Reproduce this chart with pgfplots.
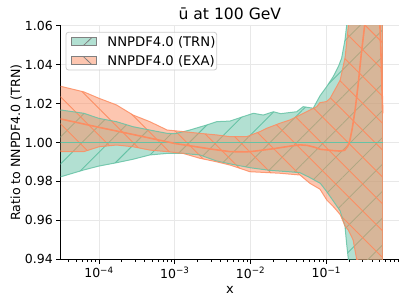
\documentclass[border=0pt]{standalone}
\usepackage{fontspec}
\setmainfont{DejaVu Sans}
\usepackage{pgfplots}
\usepackage{pgfplotstable}
\pgfplotsset{compat=1.18}
\usepgfplotslibrary{fillbetween}
\usetikzlibrary{patterns.meta}
\definecolor{trn}{HTML}{66C2A5}
\definecolor{exa}{HTML}{FC8D62}

\pgfplotstableread{
x y
3.02e-5 1.0168
6.31e-5 1.0150
1.00e-4 1.0124
1.70e-4 1.0107
2.82e-4 1.0081
4.68e-4 1.0064
7.94e-4 1.0047
1.00e-3 1.0045
1.58e-3 1.0064
2.64e-3 1.0090
3.57e-3 1.0107
5.34e-3 1.0110
8.00e-3 1.0133
1.09e-2 1.0150
1.47e-2 1.0141
2.00e-2 1.0158
2.50e-2 1.0148
2.99e-2 1.0152
4.06e-2 1.0158
4.95e-2 1.0184
6.71e-2 1.0176
8.24e-2 1.0240
1.01e-1 1.0287
1.23e-1 1.0338
1.44e-1 1.0390
1.59e-1 1.0433
1.76e-1 1.0527
1.85e-1 1.0600
2.00e-1 1.0800
3.16e-1 1.2000
5.53e-1 1.3000
}\trnhi

\pgfplotstableread{
x y
3.02e-5 0.9822
6.31e-5 0.9859
1.00e-4 0.9879
1.70e-4 0.9896
2.82e-4 0.9914
4.68e-4 0.9936
7.94e-4 0.9944
1.29e-3 0.9944
2.14e-3 0.9936
3.55e-3 0.9905
5.37e-3 0.9890
1.00e-2 0.9870
1.78e-2 0.9857
3.16e-2 0.9850
4.47e-2 0.9845
6.03e-2 0.9820
8.32e-2 0.9790
1.00e-1 0.9750
1.23e-1 0.9700
1.51e-1 0.9650
1.76e-1 0.9570
1.85e-1 0.9480
1.95e-1 0.9400
2.09e-1 0.9200
3.16e-1 0.8500
5.53e-1 0.8000
}\trnlo

\pgfplotstableread{
x y
3.02e-5 1.0290
6.31e-5 1.0260
1.00e-4 1.0227
1.70e-4 1.0193
2.82e-4 1.0141
4.68e-4 1.0107
7.94e-4 1.0064
1.29e-3 1.0056
2.14e-3 1.0047
3.55e-3 1.0039
5.37e-3 1.0030
8.90e-3 1.0030
1.33e-2 1.0056
1.63e-2 1.0073
2.44e-2 1.0099
3.31e-2 1.0116
4.49e-2 1.0141
6.08e-2 1.0167
7.45e-2 1.0184
8.24e-2 1.0205
1.00e-1 1.0210
1.12e-1 1.0227
1.52e-1 1.0320
1.77e-1 1.0440
1.95e-1 1.0600
2.24e-1 1.0900
3.16e-1 1.1500
5.53e-1 1.2000
}\exahi

\pgfplotstableread{
x y
3.02e-5 0.9953
6.31e-5 0.9953
1.00e-4 0.9978
1.70e-4 0.9987
2.82e-4 0.9978
4.68e-4 0.9961
7.94e-4 0.9953
1.29e-3 0.9944
2.14e-3 0.9919
3.55e-3 0.9901
5.37e-3 0.9884
9.80e-3 0.9850
2.44e-2 0.9842
4.49e-2 0.9833
6.08e-2 0.9790
8.24e-2 0.9760
1.01e-1 0.9705
1.24e-1 0.9670
1.52e-1 0.9630
1.77e-1 0.9570
1.95e-1 0.9550
2.25e-1 0.9500
2.49e-1 0.9407
2.63e-1 0.9300
3.98e-1 0.9000
5.53e-1 0.8800
}\exalo

\pgfplotstableread{
x y
3.02e-5 1.0122
1.00e-4 1.0078
3.16e-4 1.0037
1.00e-3 0.9995
3.16e-3 0.9965
5.37e-3 0.9953
8.90e-3 0.9952
1.10e-2 0.9955
2.00e-2 0.9968
3.16e-2 0.9980
4.47e-2 0.9988
5.60e-2 0.9985
7.08e-2 0.9975
8.30e-2 0.9965
1.00e-1 0.9962
1.26e-1 0.9958
1.51e-1 0.9956
1.74e-1 0.9960
1.91e-1 0.9980
2.04e-1 1.0010
2.19e-1 1.0070
2.40e-1 1.0170
2.63e-1 1.0300
2.88e-1 1.0450
3.24e-1 1.0620
3.80e-1 1.1000
4.47e-1 1.1000
5.09e-1 1.0600
5.31e-1 1.0400
5.53e-1 1.0150
}\exac

\begin{document}
\begin{tikzpicture}
\begin{axis}[
  at={(0pt,0pt)}, anchor=south west,
  scale only axis, width=338.3pt, height=233.6pt,
  xmode=log, xmin=3.126e-5, xmax=0.908, ymin=0.94, ymax=1.06,
  axis x line*=bottom, axis y line*=left,
  axis line style={black, line width=0.9pt},
  xtick={1e-4,1e-3,1e-2,1e-1},
  xticklabels={10\textsuperscript{−4},10\textsuperscript{−3},10\textsuperscript{−2},10\textsuperscript{−1}},
  minor xtick={4e-5,5e-5,6e-5,7e-5,8e-5,9e-5,2e-4,3e-4,4e-4,5e-4,6e-4,7e-4,8e-4,9e-4,2e-3,3e-3,4e-3,5e-3,6e-3,7e-3,8e-3,9e-3,2e-2,3e-2,4e-2,5e-2,6e-2,7e-2,8e-2,9e-2,0.2,0.3,0.4,0.5,0.6,0.7,0.8,0.9},
  ytick={0.94,0.96,0.98,1.00,1.02,1.04,1.06},
  yticklabels={0.94,0.96,0.98,1.00,1.02,1.04,1.06},
  tick align=outside,
  major tick length=4.4pt, minor tick length=2.6pt,
  every tick/.style={black, line width=0.9pt},
  minor tick style={black, line width=0.7pt},
  grid=major, major grid style={black!9, line width=0.9pt},
  tick label style={font=\fontsize{12.5}{15}\selectfont},
  every axis title/.style={at={(axis description cs:0.5,1)}, anchor=base, yshift=6.4pt, font=\fontsize{15.6}{18}\selectfont},
  every axis x label/.style={at={(axis description cs:0.5,0)}, anchor=base, yshift=-34pt, font=\fontsize{13}{16}\selectfont},
  every axis y label/.style={at={(axis description cs:-0.1203,0.5)}, rotate=90, anchor=base, font=\fontsize{12.6}{15}\selectfont},
  title={ū at 100 GeV},
  xlabel={x},
  ylabel={Ratio to NNPDF4.0 (TRN)},
]
% TRN band
\addplot[draw=none, name path=th] table {\trnhi};
\addplot[draw=none, name path=tl] table {\trnlo};
\addplot[fill=trn, fill opacity=0.5, draw=none] fill between[of=th and tl];
\addplot[pattern={Lines[angle=45,distance=19pt,line width=0.9pt]}, pattern color=trn, fill opacity=0.55, draw=none] fill between[of=th and tl];
\addplot[trn, line width=1pt, opacity=0.85] table {\trnhi};
\addplot[trn, line width=1pt, opacity=0.85] table {\trnlo};
\addplot[trn, line width=1pt, opacity=0.85] coordinates {(0.553,0.80) (0.553,1.30)};
% EXA band
\addplot[draw=none, name path=eh] table {\exahi};
\addplot[draw=none, name path=el] table {\exalo};
\addplot[fill=exa, fill opacity=0.5, draw=none] fill between[of=eh and el];
\addplot[pattern={Lines[angle=-45,distance=19pt,line width=0.9pt]}, pattern color=exa, fill opacity=0.6, draw=none] fill between[of=eh and el];
\addplot[exa, line width=1pt, opacity=0.85] table {\exahi};
\addplot[exa, line width=1pt, opacity=0.85] table {\exalo};
\addplot[exa, line width=1pt, opacity=0.85] coordinates {(0.553,0.88) (0.553,1.20)};
% central lines
\addplot[trn, line width=1.6pt] coordinates {(3.02e-5,1.0) (0.553,1.0)};
\addplot[exa, line width=1.6pt] table {\exac};
\end{axis}
% legend (drawn relative to the axis box, whose lower left corner is at the origin)
\begin{scope}
  \fill[white, fill opacity=0.8, rounded corners=2.5pt] (5.3pt,189.3pt) rectangle (156pt,227pt);
  \draw[black!20, line width=0.8pt, rounded corners=2.5pt] (5.3pt,189.3pt) rectangle (156pt,227pt);
  \fill[trn!50!white] (11pt,213.6pt) rectangle (35.3pt,221.6pt);
  \draw[black!50, line width=0.8pt] (22.6pt,213.6pt) -- (31pt,221.6pt);
  \draw[black!50, line width=1pt] (11pt,213.6pt) rectangle (35.3pt,221.6pt);
  \node[anchor=base west, inner sep=0pt, font=\fontsize{13.2}{15}\selectfont] at (46.5pt,212.9pt) {NNPDF4.0 (TRN)};
  \fill[exa!50!white] (11pt,194.8pt) rectangle (35.3pt,202.8pt);
  \draw[black!50, line width=0.8pt] (22.6pt,202.8pt) -- (31pt,194.8pt);
  \draw[black!50, line width=1pt] (11pt,194.8pt) rectangle (35.3pt,202.8pt);
  \node[anchor=base west, inner sep=0pt, font=\fontsize{13.2}{15}\selectfont] at (46.5pt,194.1pt) {NNPDF4.0 (EXA)};
\end{scope}
\pgfresetboundingbox
\path (-60.7pt,-45.7pt) rectangle (346.3pt,259.3pt);
\end{tikzpicture}
\end{document}
